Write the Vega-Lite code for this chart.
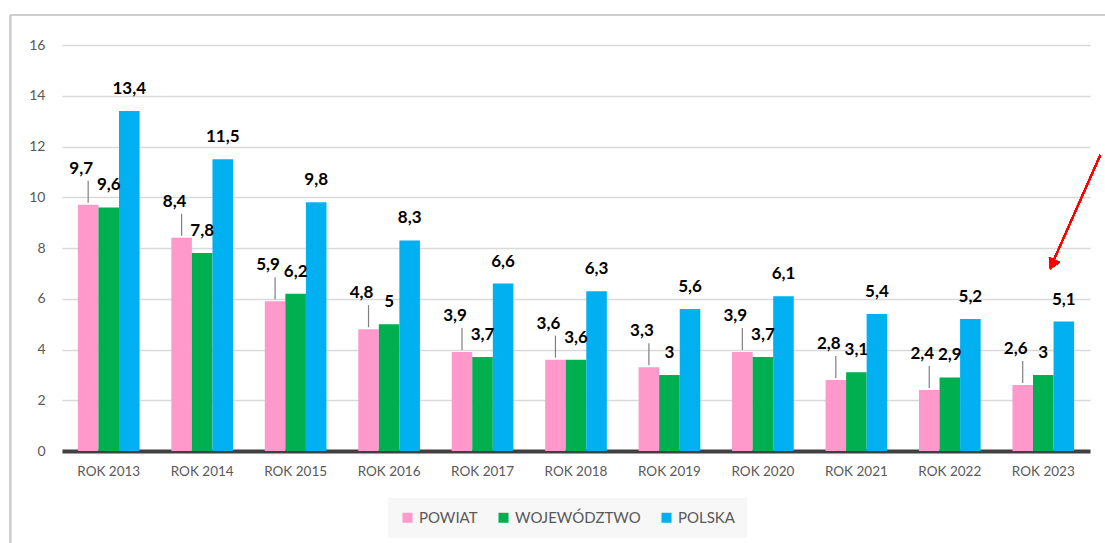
{
  "$schema": "https://vega.github.io/schema/vega-lite/v6.json",
  "width": 1028,
  "height": 406,
  "autosize": {"type": "none"},
  "padding": {"left": 62, "top": 45, "right": 15, "bottom": 92},
  "background": "#ffffff",
  "config": {
    "font": "Lato",
    "view": {"stroke": null},
    "locale": {"number": {"decimal": ",", "thousands": " ", "grouping": [3], "currency": ["", " zł"]}}
  },
  "data": {
    "values": [
      {"rok": "ROK 2013", "seria": "POWIAT", "wartosc": 9.7},
      {"rok": "ROK 2013", "seria": "WOJEWÓDZTWO", "wartosc": 9.6},
      {"rok": "ROK 2013", "seria": "POLSKA", "wartosc": 13.4},
      {"rok": "ROK 2014", "seria": "POWIAT", "wartosc": 8.4},
      {"rok": "ROK 2014", "seria": "WOJEWÓDZTWO", "wartosc": 7.8},
      {"rok": "ROK 2014", "seria": "POLSKA", "wartosc": 11.5},
      {"rok": "ROK 2015", "seria": "POWIAT", "wartosc": 5.9},
      {"rok": "ROK 2015", "seria": "WOJEWÓDZTWO", "wartosc": 6.2},
      {"rok": "ROK 2015", "seria": "POLSKA", "wartosc": 9.8},
      {"rok": "ROK 2016", "seria": "POWIAT", "wartosc": 4.8},
      {"rok": "ROK 2016", "seria": "WOJEWÓDZTWO", "wartosc": 5},
      {"rok": "ROK 2016", "seria": "POLSKA", "wartosc": 8.3},
      {"rok": "ROK 2017", "seria": "POWIAT", "wartosc": 3.9},
      {"rok": "ROK 2017", "seria": "WOJEWÓDZTWO", "wartosc": 3.7},
      {"rok": "ROK 2017", "seria": "POLSKA", "wartosc": 6.6},
      {"rok": "ROK 2018", "seria": "POWIAT", "wartosc": 3.6},
      {"rok": "ROK 2018", "seria": "WOJEWÓDZTWO", "wartosc": 3.6},
      {"rok": "ROK 2018", "seria": "POLSKA", "wartosc": 6.3},
      {"rok": "ROK 2019", "seria": "POWIAT", "wartosc": 3.3},
      {"rok": "ROK 2019", "seria": "WOJEWÓDZTWO", "wartosc": 3},
      {"rok": "ROK 2019", "seria": "POLSKA", "wartosc": 5.6},
      {"rok": "ROK 2020", "seria": "POWIAT", "wartosc": 3.9},
      {"rok": "ROK 2020", "seria": "WOJEWÓDZTWO", "wartosc": 3.7},
      {"rok": "ROK 2020", "seria": "POLSKA", "wartosc": 6.1},
      {"rok": "ROK 2021", "seria": "POWIAT", "wartosc": 2.8},
      {"rok": "ROK 2021", "seria": "WOJEWÓDZTWO", "wartosc": 3.1},
      {"rok": "ROK 2021", "seria": "POLSKA", "wartosc": 5.4},
      {"rok": "ROK 2022", "seria": "POWIAT", "wartosc": 2.4},
      {"rok": "ROK 2022", "seria": "WOJEWÓDZTWO", "wartosc": 2.9},
      {"rok": "ROK 2022", "seria": "POLSKA", "wartosc": 5.2},
      {"rok": "ROK 2023", "seria": "POWIAT", "wartosc": 2.6},
      {"rok": "ROK 2023", "seria": "WOJEWÓDZTWO", "wartosc": 3},
      {"rok": "ROK 2023", "seria": "POLSKA", "wartosc": 5.1}
    ]
  },
  "encoding": {
    "x": {
      "field": "rok", "type": "nominal", "sort": null,
      "scale": {
        "domain": ["ROK 2013", "ROK 2014", "ROK 2015", "ROK 2016", "ROK 2017", "ROK 2018", "ROK 2019", "ROK 2020", "ROK 2021", "ROK 2022", "ROK 2023"],
        "paddingInner": 0.34, "paddingOuter": 0.17
      },
      "axis": {
        "title": null, "labelAngle": 0, "ticks": false,
        "domainColor": "#404040", "domainWidth": 4,
        "labelColor": "#595959", "labelFontSize": 13.5, "labelPadding": 13,
        "grid": false
      }
    },
    "y": {
      "field": "wartosc", "type": "quantitative",
      "scale": {"domain": [0, 16], "nice": false},
      "axis": {
        "title": null, "values": [0, 2, 4, 6, 8, 10, 12, 14, 16],
        "domain": false, "ticks": false, "grid": true,
        "gridColor": "#D9D9D9", "gridWidth": 1.5,
        "labelColor": "#595959", "labelFontSize": 14, "labelPadding": 17
      }
    }
  },
  "layer": [
    {
      "mark": {"type": "rule", "color": "#CFCFCF", "strokeWidth": 2, "xOffset": -98.7, "x2Offset": 62},
      "encoding": {
        "x": {"datum": "ROK 2013"},
        "x2": {"datum": "ROK 2023"},
        "y": {"datum": 17.18}
      }
    },
    {
      "mark": {"type": "rule", "color": "#CFCFCF", "strokeWidth": 2, "xOffset": -98.7, "y2Offset": 95},
      "encoding": {
        "x": {"datum": "ROK 2013"},
        "y": {"datum": 17.18},
        "y2": {"datum": 0}
      }
    },
    {
      "mark": {"type": "bar"},
      "encoding": {
        "xOffset": {"field": "seria", "type": "nominal", "sort": ["POWIAT", "WOJEWÓDZTWO", "POLSKA"]},
        "color": {
          "field": "seria", "type": "nominal",
          "scale": {"domain": ["POWIAT", "WOJEWÓDZTWO", "POLSKA"], "range": ["#FF99CC", "#00B050", "#00B0F0"]},
          "legend": {
            "title": null, "orient": "none", "direction": "horizontal",
            "legendX": 326, "legendY": 453,
            "fillColor": "#F7F7F7", "padding": 12,
            "symbolType": "square", "symbolSize": 100, "symbolStrokeWidth": 0,
            "labelFontSize": 15, "labelColor": "#595959", "labelOffset": 4,
            "columnPadding": 18
          }
        }
      }
    },
    {
      "transform": [{"filter": "datum.seria === 'POWIAT'"}],
      "mark": {"type": "rule", "color": "#7F7F7F", "strokeWidth": 1.2, "yOffset": -2, "y2Offset": -24, "xOffset": -3},
      "encoding": {
        "xOffset": {"field": "seria", "type": "nominal", "sort": ["POWIAT", "WOJEWÓDZTWO", "POLSKA"]},
        "y2": {"field": "wartosc"}
      }
    },
    {
      "transform": [{"filter": "datum.seria === 'POWIAT'"}],
      "mark": {"type": "text", "fontWeight": "bold", "fontSize": 17, "color": "#000000", "dx": -7, "dy": -36},
      "encoding": {
        "xOffset": {"field": "seria", "type": "nominal", "sort": ["POWIAT", "WOJEWÓDZTWO", "POLSKA"]},
        "text": {"field": "wartosc", "type": "quantitative", "format": ".1~f"}
      }
    },
    {
      "transform": [{"filter": "datum.seria !== 'POWIAT'"}],
      "mark": {"type": "text", "fontWeight": "bold", "fontSize": 17, "color": "#000000", "dy": -22},
      "encoding": {
        "xOffset": {"field": "seria", "type": "nominal", "sort": ["POWIAT", "WOJEWÓDZTWO", "POLSKA"]},
        "text": {"field": "wartosc", "type": "quantitative", "format": ".1~f"}
      }
    },
    {
      "mark": {"type": "rule", "color": "#FF0000", "strokeWidth": 1.5, "xOffset": 8, "x2Offset": 57},
      "encoding": {
        "x": {"datum": "ROK 2023"},
        "x2": {"datum": "ROK 2023"},
        "y": {"datum": 7.3},
        "y2": {"datum": 11.66}
      }
    },
    {
      "mark": {"type": "point", "shape": "triangle-down", "filled": true, "color": "#FF0000", "opacity": 1, "size": 150, "angle": 25, "xOffset": 9},
      "encoding": {
        "x": {"datum": "ROK 2023"},
        "y": {"datum": 7.35}
      }
    }
  ]
}
